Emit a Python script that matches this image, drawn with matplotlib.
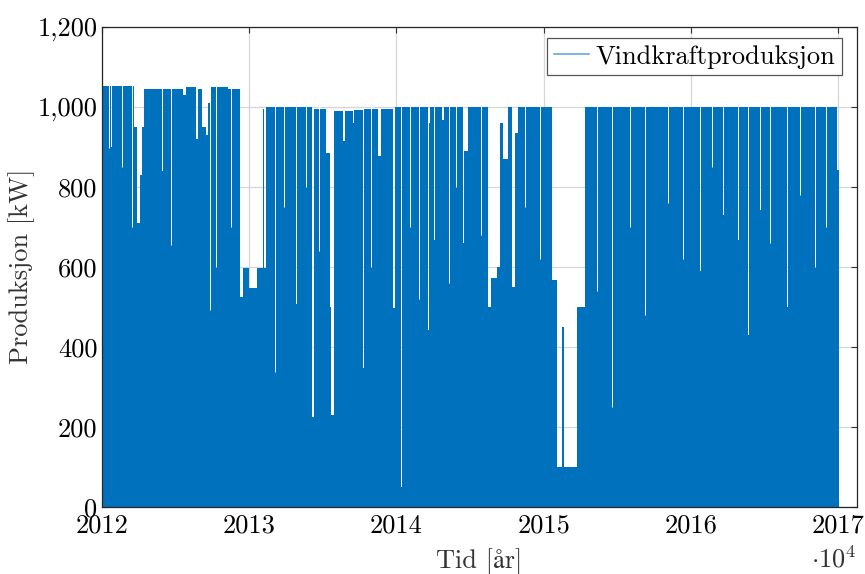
import matplotlib
matplotlib.use("Agg")
import matplotlib.pyplot as plt
from matplotlib.lines import Line2D

plt.rcParams['font.family'] = ['cmr10', 'STIXGeneral']
plt.rcParams['mathtext.fontset'] = 'cm'
plt.rcParams['axes.formatter.use_mathtext'] = True

BLUE = "#0072BD"

# start of each stretch (year) and the top of the production in that stretch (kW)
t_start = [2012.000, 2012.061, 2012.068, 2012.217, 2012.237, 2012.258, 2012.271,
           2012.285, 2012.407, 2012.414, 2012.550, 2012.570, 2012.638, 2012.651,
           2012.678, 2012.706, 2012.719, 2012.739, 2012.855, 2012.936, 2012.957,
           2012.997, 2013.052, 2013.092, 2013.099, 2013.113, 2013.316, 2013.323,
           2013.431, 2013.438, 2013.520, 2013.547, 2013.560, 2013.574, 2013.635,
           2013.655, 2013.703, 2013.710, 2013.777, 2013.784, 2013.879, 2013.893,
           2013.981, 2013.988, 2014.035, 2014.042, 2014.212, 2014.218, 2014.225,
           2014.232, 2014.259, 2014.266, 2014.307, 2014.327, 2014.456, 2014.463,
           2014.490, 2014.531, 2014.537, 2014.626, 2014.646, 2014.687, 2014.707,
           2014.727, 2014.761, 2014.788, 2014.809, 2014.829, 2015.060, 2015.094,
           2015.128, 2015.141, 2015.229, 2015.284, 2016.064, 2016.071, 2016.220,
           2016.227, 2016.322, 2016.328, 2016.389, 2016.396, 2016.471, 2016.478,
           2016.654, 2016.661, 2016.993]
peak_kw = [1052, 900, 1052, 950, 710, 830, 950,
           1045, 840, 1045, 1030, 1050, 920, 1045,
           948, 930, 1008, 1050, 1045, 525, 597,
           547, 597, 995, 597, 998, 508, 998,
           225, 995, 885, 500, 230, 990, 915,
           990, 960, 992, 347, 995, 878, 995,
           496, 998, 50, 998, 958, 441, 958,
           998, 666, 998, 966, 998, 660, 890,
           998, 748, 998, 499, 571, 599, 958,
           870, 998, 550, 933, 998, 566, 100,
           449, 100, 499, 998, 590, 998, 729,
           998, 666, 998, 429, 998, 741, 998,
           499, 998, 841]
t_end = 2017.007

# short calm spells: the time (year) and how high production stayed (kW)
dip_t = [2012.047, 2012.136, 2012.204, 2012.468, 2012.733, 2012.773, 2012.875,
         2013.174, 2013.235, 2013.384, 2013.472, 2013.825, 2014.096, 2014.157,
         2014.361, 2014.402, 2014.578, 2014.877, 2014.978, 2015.365, 2015.467,
         2015.589, 2015.691, 2015.847, 2015.949, 2016.146, 2016.539, 2016.742,
         2016.844, 2016.919]
dip_kw = [896, 849, 700, 654, 491, 600, 700,
          336, 750, 800, 640, 600, 700, 520,
          560, 800, 680, 750, 620, 540, 250,
          700, 480, 760, 620, 850, 660, 780,
          600, 700]

years = [2012, 2013, 2014, 2015, 2016, 2017]
y_ticks = [0, 200, 400, 600, 800, 1000, 1200]
y_labels = ["0", "200", "400", "600", "800", "1,000", "1,200"]

fig = plt.figure(figsize=(8.65, 5.74), dpi=100)
ax = fig.add_axes([0.1176, 0.1172, 0.8735, 0.8363])

ax.fill_between(t_start + [t_end], 0, peak_kw + [peak_kw[-1]], step='post',
                color=BLUE, linewidth=0)
ax.vlines(dip_t, dip_kw, 1055, color='white', linewidth=0.7)

ax.set_xlim(2012, 2017.13)
ax.set_ylim(0, 1200)
ax.set_xticks(years)
ax.set_xticklabels([str(y) for y in years])
ax.set_yticks(y_ticks)
ax.set_yticklabels(y_labels)
ax.tick_params(direction='in', length=4, width=0.8, top=True, right=True,
               labelsize=19, colors='#333333', labelcolor='black')
ax.tick_params(axis='y', pad=3)
ax.tick_params(axis='x', pad=5)
ax.grid(True, color='#d6d6d6', linewidth=0.9)
ax.set_axisbelow(True)
for s in ax.spines.values():
    s.set_color('#262626')
    s.set_linewidth(0.9)

ax.set_xlabel("Tid [år]", fontsize=19, color='#333333', labelpad=8)
ax.set_ylabel("Produksjon [kW]", fontsize=19, color='#333333', labelpad=2)
fig.text(0.938, 0.012, r'$\cdot 10^4$', fontsize=19, color='#333333')

handle = Line2D([], [], color='#5a9fd6', linewidth=1.1)
leg = ax.legend([handle], ["Vindkraftproduksjon"], loc='upper right',
                bbox_to_anchor=(0.98, 0.976), borderaxespad=0, fontsize=19,
                fancybox=False, framealpha=1, edgecolor='#555555',
                handlelength=1.35, handletextpad=0.25, borderpad=0.25)
leg.get_frame().set_linewidth(0.9)

fig.savefig("out.png", dpi=100)
